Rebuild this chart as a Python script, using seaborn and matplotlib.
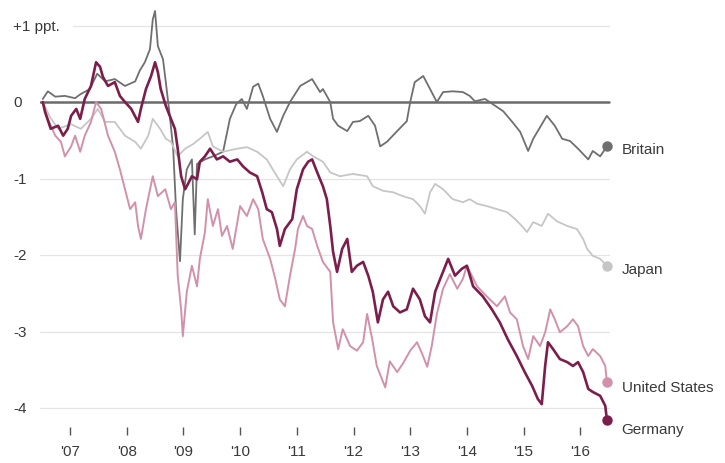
import pandas as pd
import matplotlib.pyplot as plt
import seaborn as sns

# Yield change vs. start, percentage points
britain_t = [2006.52, 2006.61, 2006.74, 2006.91, 2007.09, 2007.18, 2007.35, 2007.48, 2007.62, 2007.79,
             2007.97, 2008.15, 2008.23, 2008.32, 2008.41, 2008.46, 2008.50, 2008.55, 2008.64, 2008.69,
             2008.76, 2008.82, 2008.87, 2008.94, 2008.99, 2009.06, 2009.15, 2009.20, 2009.24, 2009.38,
             2009.52, 2009.70, 2009.82, 2009.93, 2010.03, 2010.12, 2010.23, 2010.32, 2010.40, 2010.53,
             2010.65, 2010.76, 2010.88, 2011.06, 2011.27, 2011.41, 2011.46, 2011.59, 2011.64, 2011.73,
             2011.89, 2011.99, 2012.11, 2012.26, 2012.38, 2012.47, 2012.59, 2012.77, 2012.94, 2013.00,
             2013.08, 2013.23, 2013.35, 2013.47, 2013.58, 2013.75, 2013.93, 2014.05, 2014.14, 2014.32,
             2014.46, 2014.64, 2014.80, 2014.94, 2015.08, 2015.17, 2015.29, 2015.41, 2015.55, 2015.68,
             2015.82, 2015.96, 2016.14, 2016.22, 2016.35, 2016.47]
britain_v = [0.04, 0.14, 0.07, 0.08, 0.05, 0.10, 0.17, 0.37, 0.27, 0.30,
             0.21, 0.27, 0.41, 0.52, 0.69, 1.08, 1.19, 0.73, 0.56, 0.26,
             -0.18, -0.61, -1.40, -2.08, -1.27, -0.88, -0.75, -1.73, -0.81, -0.75,
             -0.71, -0.65, -0.22, -0.03, 0.04, -0.09, 0.20, 0.24, 0.08, -0.22,
             -0.39, -0.18, 0.00, 0.21, 0.30, 0.13, 0.17, 0.00, -0.22, -0.31,
             -0.38, -0.26, -0.25, -0.18, -0.31, -0.58, -0.52, -0.38, -0.25, 0.00,
             0.26, 0.34, 0.17, 0.00, 0.13, 0.14, 0.13, 0.08, 0.01, 0.04,
             -0.03, -0.12, -0.26, -0.39, -0.64, -0.48, -0.33, -0.18, -0.31, -0.48,
             -0.51, -0.61, -0.75, -0.64, -0.71, -0.58]

japan_t = [2006.52, 2006.65, 2006.79, 2007.02, 2007.19, 2007.37, 2007.49, 2007.62, 2007.79, 2007.97,
           2008.15, 2008.25, 2008.38, 2008.46, 2008.59, 2008.69, 2008.78, 2008.90, 2009.03, 2009.17,
           2009.29, 2009.43, 2009.52, 2009.70, 2009.95, 2010.12, 2010.30, 2010.47, 2010.65, 2010.76,
           2010.88, 2011.00, 2011.18, 2011.29, 2011.46, 2011.59, 2011.76, 2011.99, 2012.24, 2012.34,
           2012.52, 2012.70, 2012.87, 2013.05, 2013.17, 2013.26, 2013.35, 2013.44, 2013.58, 2013.75,
           2013.93, 2014.05, 2014.18, 2014.35, 2014.53, 2014.71, 2014.85, 2014.97, 2015.06, 2015.17,
           2015.32, 2015.43, 2015.59, 2015.77, 2015.94, 2016.05, 2016.12, 2016.22, 2016.35, 2016.47]
japan_v = [0.00, -0.20, -0.35, -0.29, -0.35, -0.22, -0.09, -0.26, -0.26, -0.44,
           -0.52, -0.61, -0.44, -0.22, -0.35, -0.48, -0.52, -0.71, -0.61, -0.55,
           -0.48, -0.39, -0.58, -0.65, -0.61, -0.59, -0.65, -0.75, -0.97, -1.10,
           -0.88, -0.75, -0.65, -0.71, -0.78, -0.92, -0.97, -0.94, -0.97, -1.10,
           -1.16, -1.18, -1.23, -1.27, -1.36, -1.46, -1.18, -1.07, -1.14, -1.27,
           -1.31, -1.27, -1.33, -1.36, -1.40, -1.44, -1.53, -1.62, -1.70, -1.57,
           -1.62, -1.46, -1.56, -1.62, -1.66, -1.79, -1.92, -2.01, -2.05, -2.14]

us_t = [2006.52, 2006.61, 2006.74, 2006.84, 2006.91, 2007.02, 2007.09, 2007.18, 2007.26, 2007.37,
        2007.46, 2007.55, 2007.67, 2007.79, 2007.88, 2007.97, 2008.06, 2008.15, 2008.20, 2008.25,
        2008.34, 2008.46, 2008.55, 2008.68, 2008.78, 2008.85, 2008.90, 2008.96, 2008.99, 2009.06,
        2009.15, 2009.24, 2009.29, 2009.38, 2009.43, 2009.52, 2009.61, 2009.68, 2009.77, 2009.87,
        2010.00, 2010.12, 2010.23, 2010.32, 2010.40, 2010.53, 2010.62, 2010.70, 2010.79, 2010.88,
        2010.97, 2011.02, 2011.11, 2011.18, 2011.27, 2011.36, 2011.46, 2011.59, 2011.64, 2011.73,
        2011.81, 2011.94, 2012.06, 2012.17, 2012.24, 2012.33, 2012.41, 2012.56, 2012.64, 2012.77,
        2012.87, 2013.00, 2013.12, 2013.21, 2013.30, 2013.38, 2013.47, 2013.58, 2013.70, 2013.83,
        2013.93, 2014.00, 2014.18, 2014.35, 2014.53, 2014.67, 2014.76, 2014.88, 2014.99, 2015.08,
        2015.17, 2015.29, 2015.38, 2015.47, 2015.55, 2015.64, 2015.77, 2015.87, 2015.96, 2016.05,
        2016.14, 2016.22, 2016.35, 2016.44, 2016.47]
us_v = [0.00, -0.22, -0.44, -0.52, -0.71, -0.58, -0.44, -0.65, -0.44, -0.26,
        0.00, -0.09, -0.44, -0.65, -0.88, -1.14, -1.40, -1.31, -1.62, -1.79,
        -1.40, -0.97, -1.23, -1.14, -1.40, -1.31, -2.27, -2.71, -3.06, -2.48,
        -2.14, -2.41, -2.05, -1.70, -1.27, -1.62, -1.40, -1.75, -1.62, -1.92,
        -1.36, -1.49, -1.27, -1.40, -1.79, -2.05, -2.31, -2.58, -2.67, -2.27,
        -1.92, -1.66, -1.49, -1.62, -1.66, -1.88, -2.09, -2.22, -2.88, -3.23,
        -2.97, -3.19, -3.25, -3.14, -2.77, -3.10, -3.45, -3.73, -3.39, -3.53,
        -3.42, -3.25, -3.14, -3.29, -3.46, -3.19, -2.77, -2.44, -2.25, -2.44,
        -2.31, -2.14, -2.41, -2.54, -2.67, -2.54, -2.75, -2.84, -3.19, -3.36,
        -3.06, -3.19, -3.01, -2.71, -2.84, -3.01, -2.93, -2.84, -2.93, -3.19,
        -3.32, -3.23, -3.32, -3.45, -3.66]

germany_t = [2006.52, 2006.56, 2006.66, 2006.79, 2006.88, 2006.96, 2007.02, 2007.11, 2007.18, 2007.26,
             2007.37, 2007.46, 2007.53, 2007.58, 2007.67, 2007.79, 2007.88, 2007.97, 2008.08, 2008.20,
             2008.25, 2008.34, 2008.43, 2008.50, 2008.55, 2008.60, 2008.69, 2008.78, 2008.85, 2008.90,
             2008.96, 2009.03, 2009.06, 2009.15, 2009.24, 2009.29, 2009.38, 2009.47, 2009.59, 2009.70,
             2009.82, 2009.95, 2010.05, 2010.17, 2010.30, 2010.39, 2010.47, 2010.56, 2010.65, 2010.70,
             2010.79, 2010.92, 2011.00, 2011.11, 2011.20, 2011.27, 2011.36, 2011.46, 2011.53, 2011.59,
             2011.64, 2011.71, 2011.80, 2011.89, 2011.97, 2012.06, 2012.17, 2012.26, 2012.34, 2012.43,
             2012.52, 2012.61, 2012.70, 2012.82, 2012.94, 2013.05, 2013.17, 2013.26, 2013.35, 2013.44,
             2013.53, 2013.67, 2013.79, 2013.91, 2014.00, 2014.11, 2014.28, 2014.44, 2014.58, 2014.72,
             2014.88, 2015.02, 2015.15, 2015.25, 2015.32, 2015.38, 2015.43, 2015.52, 2015.64, 2015.77,
             2015.87, 2015.96, 2016.05, 2016.14, 2016.22, 2016.35, 2016.44, 2016.47]
germany_v = [0.00, -0.13, -0.35, -0.31, -0.44, -0.35, -0.18, -0.09, -0.22, 0.04,
             0.21, 0.52, 0.46, 0.33, 0.21, 0.26, 0.08, 0.00, -0.09, -0.26,
             -0.09, 0.17, 0.34, 0.52, 0.39, 0.17, -0.05, -0.22, -0.35, -0.61,
             -0.97, -1.14, -1.10, -0.97, -1.01, -0.78, -0.71, -0.61, -0.75, -0.71,
             -0.78, -0.75, -0.84, -0.92, -0.97, -1.18, -1.40, -1.44, -1.66, -1.88,
             -1.66, -1.53, -1.14, -0.88, -0.78, -0.75, -0.92, -1.10, -1.27, -1.62,
             -1.96, -2.22, -1.92, -1.79, -2.22, -2.14, -2.09, -2.27, -2.48, -2.88,
             -2.58, -2.48, -2.67, -2.75, -2.71, -2.44, -2.58, -2.80, -2.88, -2.48,
             -2.31, -2.05, -2.27, -2.18, -2.14, -2.41, -2.54, -2.71, -2.88, -3.10,
             -3.32, -3.53, -3.71, -3.88, -3.95, -3.45, -3.14, -3.23, -3.36, -3.40,
             -3.45, -3.40, -3.53, -3.75, -3.79, -3.84, -3.97, -4.16]

year_ticks = [2007, 2008, 2009, 2010, 2011, 2012, 2013, 2014, 2015, 2016]
year_labels = ["'07", "'08", "'09", "'10", "'11", "'12", "'13", "'14", "'15", "'16"]
y_levels = [1, 0, -1, -2, -3, -4]
y_labels = ["+1 ppt.", "0", "-1", "-2", "-3", "-4"]

# name, times, values, color, width, label y
series = [
    ("Britain", britain_t, britain_v, "#6f6f6f", 1.3, -0.61),
    ("Japan", japan_t, japan_v, "#c6c6c6", 1.3, -2.18),
    ("United States", us_t, us_v, "#d291aa", 1.4, -3.73),
    ("Germany", germany_t, germany_v, "#7c1e4c", 1.9, -4.27),
]

sns.set_style("white")
plt.rcParams['font.family'] = ['Liberation Sans', 'DejaVu Sans']

fig = plt.figure(figsize=(7.25, 4.64), dpi=100)
ax = fig.add_axes([40 / 725, 1 - 428 / 464, 572 / 725, 418 / 464])
ax.set_xlim(2006.471, 2016.559)
ax.set_ylim(-4.248, 1.216)

# gridlines
for lv in [-1, -2, -3, -4]:
    ax.axhline(lv, xmin=0, xmax=0.995, color="#e4e4e4", lw=0.9, zorder=0)
ax.axhline(1, xmin=0.058, xmax=0.995, color="#e4e4e4", lw=0.9, zorder=0)

for name, t, v, col, lw, ly in series:
    df = pd.DataFrame({"t": t, "v": v})
    sns.lineplot(data=df, x="t", y="v", color=col, lw=lw, ax=ax, zorder=3)
    ax.plot(t[-1], v[-1], "o", color=col, ms=6.5, zorder=4, clip_on=False)
    ax.text(2016.73, ly, name, fontsize=11, color="#3a3a3a", va="center", ha="left")

ax.axhline(0, xmin=0, xmax=0.995, color="#6a6a6a", lw=1.8, zorder=2)

for lv, lab in zip(y_levels, y_labels):
    ax.text(-0.047, lv, lab, transform=ax.get_yaxis_transform(), fontsize=11,
            color="#3a3a3a", va="center", ha="left")

ax.set_yticks([])
ax.set_xticks(year_ticks)
ax.set_xticklabels(year_labels, fontsize=11, color="#3a3a3a")
ax.tick_params(axis="x", bottom=True, length=6, width=1, color="#555555", pad=6, direction="out")
ax.set_xlabel("")
ax.set_ylabel("")
sns.despine(ax=ax, left=True, bottom=True)

fig.savefig("out.png", dpi=100)
